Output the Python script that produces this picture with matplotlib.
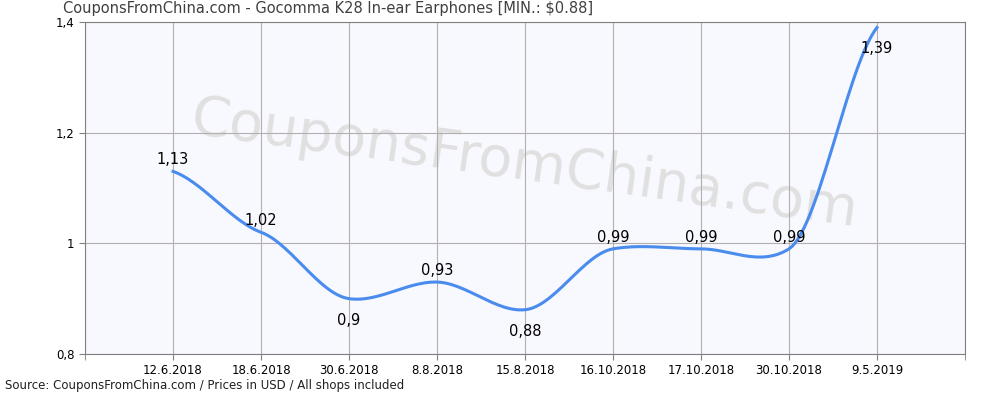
import numpy as np
import matplotlib
matplotlib.use("Agg")
import matplotlib.pyplot as plt

dates = ["12.6.2018", "18.6.2018", "30.6.2018", "8.8.2018", "15.8.2018",
         "16.10.2018", "17.10.2018", "30.10.2018", "9.5.2019"]
prices = [1.13, 1.02, 0.90, 0.93, 0.88, 0.99, 0.99, 0.99, 1.39]
label_below = [False, False, True, False, True, False, False, False, True]


def smooth(x, y, n=30, tension=0.5):
    # cardinal spline through the points, just for drawing the curve
    x = np.asarray(x, float)
    y = np.asarray(y, float)
    m = np.zeros_like(y)
    m[1:-1] = tension * (y[2:] - y[:-2]) / 2
    m[0] = tension * (y[1] - y[0])
    m[-1] = tension * (y[-1] - y[-2])
    xs, ys = [], []
    for i in range(len(x) - 1):
        t = np.linspace(0, 1, n)
        h00 = 2 * t**3 - 3 * t**2 + 1
        h10 = t**3 - 2 * t**2 + t
        h01 = -2 * t**3 + 3 * t**2
        h11 = t**3 - t**2
        xs.append(x[i] + t * (x[i + 1] - x[i]))
        ys.append(h00 * y[i] + h10 * m[i] + h01 * y[i + 1] + h11 * m[i + 1])
    return np.concatenate(xs), np.concatenate(ys)


fig = plt.figure(figsize=(10, 4), dpi=100)
ax = fig.add_axes([0.085, 0.115, 0.88, 0.83])
ax.set_facecolor("#f8f8ff")

x = np.arange(len(dates))
ax.set_xlim(-1, len(dates))
ax.set_ylim(0.8, 1.4)
ax.set_xticks(x)
ax.set_xticklabels(dates, fontsize=8.5)
ax.set_yticks([0.8, 1.0, 1.2, 1.4])
ax.set_yticklabels(["0,8", "1", "1,2", "1,4"], fontsize=8.5)
ax.set_xticks(np.arange(-1, len(dates) + 1), minor=True)
ax.grid(True, which="major", color="#b0b0b0", linewidth=0.8)
ax.grid(True, which="minor", axis="x", color="#b0b0b0", linewidth=0.8)
ax.tick_params(which="minor", length=4, color="#808080")
ax.tick_params(which="major", length=4, color="#808080")
for s in ax.spines.values():
    s.set_color("#808080")

ax.text(0.5, 0.57, "CouponsFromChina.com", transform=ax.transAxes,
        fontsize=40, color="#e0e0e0", ha="center", va="center",
        rotation=-8, zorder=0)

sx, sy = smooth(x, prices)
ax.plot(sx, sy, color="#4a8ced", linewidth=2.2, zorder=3)

for xi, p, below in zip(x, prices, label_below):
    txt = f"{p:g}".replace(".", ",")
    if below:
        ax.annotate(txt, (xi, p), xytext=(0, -10), textcoords="offset points",
                    ha="center", va="top", fontsize=10.5, zorder=4)
    else:
        ax.annotate(txt, (xi, p), xytext=(0, 3), textcoords="offset points",
                    ha="center", va="bottom", fontsize=10.5, zorder=4)

fig.text(0.063, 0.978, "CouponsFromChina.com - Gocomma K28 In-ear Earphones [MIN.: $0.88]",
         fontsize=10.5, color="#404040", va="center")
fig.text(0.005, 0.02, "Source: CouponsFromChina.com / Prices in USD / All shops included",
         fontsize=8.5, color="#202020", va="bottom")

fig.savefig("out.png", dpi=100)
